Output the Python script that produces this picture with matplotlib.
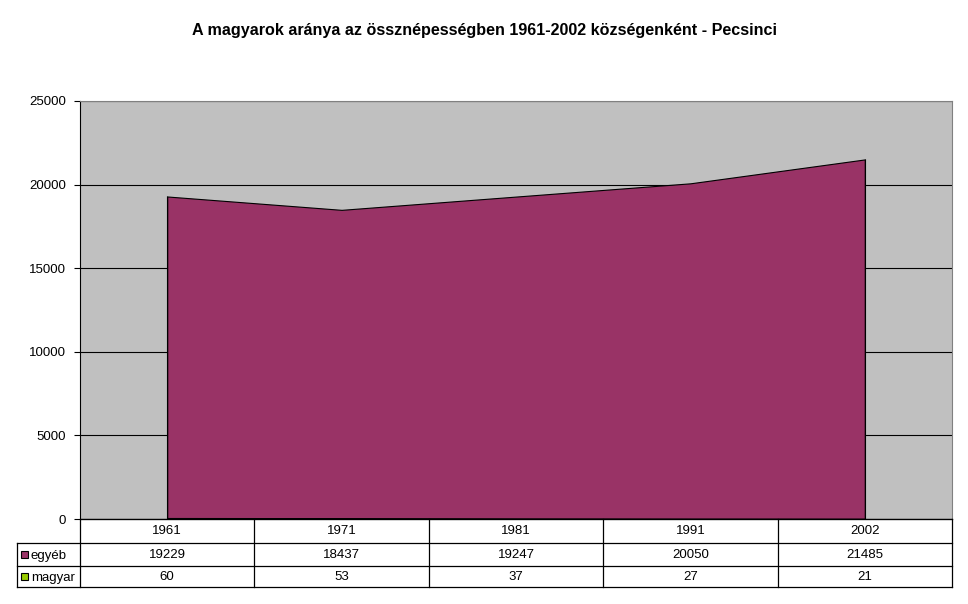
import matplotlib
matplotlib.use('Agg')
import matplotlib.pyplot as plt
from matplotlib.lines import Line2D
from matplotlib.patches import Rectangle
import numpy as np

plt.rcParams['font.family'] = ['Liberation Sans', 'DejaVu Sans']

# ── ADATOK ────────────────────────────────────────────
years = ["1961", "1971", "1981", "1991", "2002"]
egyeb = [19229, 18437, 19247, 20050, 21485]
magyar = [60, 53, 37, 27, 21]
series_names = ["egyéb", "magyar"]
colors = ["#993366", "#99CC00"]
title = "A magyarok aránya az össznépességben 1961-2002 községenként - Pecsinci"

W, H = 968, 604
fig = plt.figure(figsize=(W / 100, H / 100), dpi=100)
fig.patch.set_facecolor("white")

# plot area in pixels
px_l, px_r, px_t, px_b = 80, 952, 101, 519
ax = fig.add_axes([px_l / W, 1 - px_b / H, (px_r - px_l) / W, (px_b - px_t) / H])
ax.set_facecolor("#C0C0C0")

x = np.arange(len(years))
ax.stackplot(x, magyar, egyeb, colors=[colors[1], colors[0]],
             edgecolor="black", linewidth=0.8)
ax.vlines([x[0], x[-1]], 0, [magyar[0] + egyeb[0], magyar[-1] + egyeb[-1]],
          color="black", linewidth=0.8)

ax.set_xlim(-0.5, len(years) - 0.5)
ax.set_ylim(0, 25000)
ax.set_yticks(range(0, 25001, 5000))
ax.set_xticks([])
ax.yaxis.grid(True, color="black", linewidth=0.8)
ax.set_axisbelow(True)
ax.tick_params(axis="y", labelsize=9.5, length=4, width=0.8, pad=6)
for s in ["top", "right"]:
    ax.spines[s].set_color("#808080")
for s in ["left", "bottom"]:
    ax.spines[s].set_color("black")

fig.text(0.5, 1 - 31 / H, title, ha="center", va="center",
         fontsize=11.6, fontweight="bold")

# ── ADATTÁBLA ─────────────────────────────────────────
rows_y = [519, 543, 566, 587]
lab_l = 17
cw = (px_r - px_l) / len(years)


def hline(y, x0, x1):
    fig.add_artist(Line2D([x0 / W, x1 / W], [1 - y / H, 1 - y / H],
                          color="black", linewidth=0.9))


def vline(xp, y0, y1):
    fig.add_artist(Line2D([xp / W, xp / W], [1 - y0 / H, 1 - y1 / H],
                          color="black", linewidth=0.9))


hline(rows_y[0], px_l, px_r)
for y in rows_y[1:]:
    hline(y, lab_l, px_r)
for i in range(len(years) + 1):
    vline(px_l + i * cw, rows_y[0], rows_y[-1])
vline(lab_l, rows_y[1], rows_y[-1])

for i, yr in enumerate(years):
    cx = (px_l + (i + 0.5) * cw) / W
    fig.text(cx, 1 - (rows_y[0] + rows_y[1]) / 2 / H, yr,
             ha="center", va="center", fontsize=9.5)
    for r, vals in enumerate([egyeb, magyar]):
        yc = (rows_y[r + 1] + rows_y[r + 2]) / 2
        fig.text(cx, 1 - yc / H, str(vals[i]),
                 ha="center", va="center", fontsize=9.5)

for r, name in enumerate(series_names):
    yc = (rows_y[r + 1] + rows_y[r + 2]) / 2
    fig.add_artist(Rectangle(((lab_l + 4) / W, 1 - (yc + 3.5) / H),
                             7 / W, 7 / H, facecolor=colors[r],
                             edgecolor="black", linewidth=0.8))
    fig.text((lab_l + 14) / W, 1 - (yc + 4.5) / H, name,
             ha="left", va="baseline", fontsize=9.5)

plt.savefig("out.png", dpi=100)
plt.close()
